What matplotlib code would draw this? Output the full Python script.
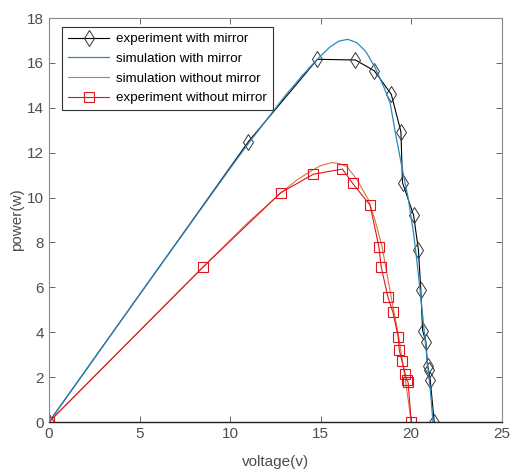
import matplotlib
matplotlib.use("Agg")
import matplotlib.pyplot as plt

plt.rcParams['font.family'] = ['Liberation Sans', 'DejaVu Sans']

# experiment with mirror
exp_m_v = [0, 11.0, 14.82, 16.92, 17.96, 18.9, 19.43, 19.52, 20.13, 20.4, 20.53,
           20.63, 20.81, 20.9, 20.96, 21.05, 21.27]
exp_m_p = [0, 12.48, 16.16, 16.13, 15.65, 14.6, 12.94, 10.66, 9.22, 7.66, 5.88,
           4.07, 3.58, 2.5, 2.32, 1.87, 0]

# simulation with mirror
sim_m_v = [0, 5, 10, 11, 12, 13, 14, 14.8, 15.5, 16, 16.5, 17, 17.5, 18, 18.5,
           18.84, 19.1, 19.5, 19.85, 20.13, 20.31, 20.5, 20.7, 20.9, 21.07, 21.2]
sim_m_p = [0, 5.68, 11.3, 12.4, 13.45, 14.5, 15.45, 16.15, 16.7, 16.97, 17.05,
           16.9, 16.5, 15.8, 14.9, 14.2, 13.0, 11.3, 9.9, 8.4, 7.2, 5.8, 4.2,
           2.6, 1.3, 0]

# simulation without mirror
sim_n_v = [0, 5, 8.5, 10, 11, 12, 12.8, 13.68, 14.5, 15, 15.62, 16, 16.45, 17,
           17.64, 18, 18.38, 18.84, 19.3, 19.67, 19.85, 20.0]
sim_n_p = [0, 4.06, 6.9, 8.1, 8.9, 9.62, 10.2, 10.78, 11.2, 11.42, 11.56, 11.52,
           11.38, 10.8, 9.9, 9.0, 7.85, 5.8, 3.85, 1.9, 0.9, 0]

# experiment without mirror
exp_n_v = [0, 8.5, 12.8, 14.6, 16.2, 16.76, 17.73, 18.22, 18.34, 18.71, 18.99,
           19.28, 19.34, 19.49, 19.67, 19.76, 19.83, 20.0]
exp_n_p = [0, 6.9, 10.22, 11.04, 11.27, 10.64, 9.66, 7.79, 6.92, 5.58, 4.89,
           3.8, 3.21, 2.72, 2.14, 1.87, 1.77, 0]

xticks = [0, 5, 10, 15, 20, 25]
yticks = [0, 2, 4, 6, 8, 10, 12, 14, 16, 18]

fig = plt.figure(figsize=(5.12, 4.74), dpi=100)
ax = fig.add_axes([0.0957, 0.1097, 0.8843, 0.8523])

ax.plot(exp_m_v, exp_m_p, color='black', lw=0.8, marker='d', ms=8,
        mfc='none', mec='#333333', mew=0.7, label='experiment with mirror')
ax.plot(sim_m_v, sim_m_p, color='#2a8abf', lw=0.9, label='simulation with mirror')
ax.plot(sim_n_v, sim_n_p, color='#D9743F', lw=0.8, label='simulation without mirror')
ax.plot(exp_n_v, exp_n_p, color='#e0141e', lw=0.8, marker='s', ms=6.5,
        mfc='none', mec='#e0141e', mew=0.8, label='experiment without mirror')

ax.set_xlim(0, 25)
ax.set_ylim(0, 18)
ax.set_xticks(xticks)
ax.set_yticks(yticks)
ax.tick_params(direction='in', top=True, right=True, length=4, width=0.6,
               colors='#4d4d4d', labelsize=11, labelcolor='#4d4d4d')
for s in ['left', 'top', 'right']:
    ax.spines[s].set_color('#8a8a8a')
    ax.spines[s].set_linewidth(0.8)
ax.spines['bottom'].set_color('#202020')
ax.spines['bottom'].set_linewidth(1.0)

ax.set_xlabel('voltage(v)', fontsize=11, color='#4d4d4d', labelpad=10)
ax.set_ylabel('power(w)', fontsize=11, color='#4d4d4d', labelpad=2)

leg = ax.legend(loc='upper left', bbox_to_anchor=(13 / 453, 1 - 9 / 404),
                borderaxespad=0, fontsize=9.6, frameon=True, fancybox=False,
                edgecolor='#333333', framealpha=1, borderpad=0.45,
                handlelength=3.1, handletextpad=0.5, labelspacing=0.55)
leg.get_frame().set_linewidth(0.8)

fig.savefig('out.png', dpi=100)
